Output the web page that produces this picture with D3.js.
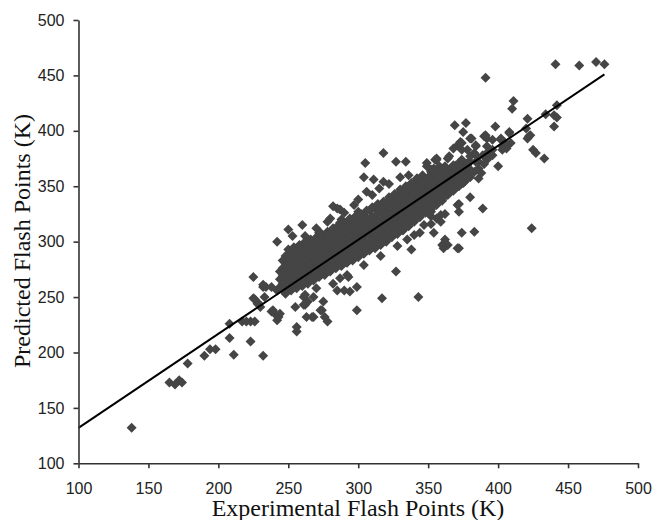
<!DOCTYPE html>
<html><head><meta charset="utf-8">
<script src="https://cdn.jsdelivr.net/npm/d3@7"></script>
<style>body{margin:0;background:#fff}svg{display:block}</style>
</head><body><svg id="c" width="654" height="520"></svg>
<script>
const xTicks=[100,150,200,250,300,350,400,450,500];
const yTicks=[100,150,200,250,300,350,400,450,500];
const xTitle="Experimental Flash Points (K)";
const yTitle="Predicted Flash Points (K)";
// regression line endpoints [experimental, predicted]
const fitLine=[[100,132],[476,451]];
// dense core of the cloud: [experimental, [predicted...]]
const coreColumns=[
[244,[259,266,273]],
[248,[258,265,272,280,287]],
[252,[256,263,271,277,285,292]],
[256,[258,265,272,280,286,294]],
[260,[260,267,274,281,289,296]],
[264,[262,270,276,283,290,298]],
[268,[265,272,279,287,293,300]],
[272,[268,275,282,289,296,303]],
[276,[270,277,285,291,298,306]],
[280,[273,280,287,294,301,308]],
[284,[276,283,290,297,305,311]],
[288,[278,285,292,299,306,313,320]],
[292,[281,288,296,302,309,316]],
[296,[283,290,297,304,312,318]],
[300,[286,293,300,307,314,321,327]],
[304,[289,296,304,310,317,324]],
[308,[292,299,306,313,320,328]],
[312,[294,301,308,316,322,330]],
[316,[297,304,311,318,326,332]],
[320,[300,307,315,321,328,335]],
[324,[304,311,318,325,333,339]],
[328,[307,314,321,329,335,342]],
[332,[310,317,324,331,338,345]],
[336,[314,321,329,335,342,349]],
[340,[318,325,332,339,346,352]],
[344,[322,329,336,343,350,356]],
[348,[326,333,340,347,354]],
[352,[329,336,343,350,357,363]],
[356,[333,340,347,354,361]],
[360,[337,344,351,358,365]],
[364,[342,349,356,363]],
[368,[346,353,360,367]],
[372,[350,357,364,371]],
[376,[354,361,368]],
[380,[358,365,372]]
];
const coreColumns2=[
[246,[262,269,276,283]],
[250,[258,265,272,280,287,293]],
[254,[260,267,274,281,289,295]],
[258,[262,269,276,284,291,297]],
[262,[264,271,278,285,292,300]],
[266,[266,273,280,287,295,302]],
[270,[268,276,283,290,297,304]],
[274,[271,278,285,293,300,306]],
[278,[273,281,288,295,302,309]],
[282,[276,283,290,297,305,312]],
[286,[279,286,293,301,308,315]],
[290,[281,288,296,303,310,317]],
[294,[284,291,298,306,313,320]],
[298,[287,294,301,308,315,323]],
[302,[290,297,304,311,318,325]],
[306,[292,299,307,314,321,328]],
[310,[295,302,309,316,323,331]],
[314,[298,305,312,319,327,334]],
[318,[301,308,315,322,330,336]],
[322,[304,311,319,326,333,340]],
[326,[307,314,322,329,336,343]],
[330,[311,318,325,332,339,347]],
[334,[314,321,328,336,343,350]],
[338,[318,325,332,339,347,353]],
[342,[322,329,336,343,350,357]],
[346,[326,333,340,347,354,360]],
[350,[329,336,344,351,358]],
[354,[333,340,347,354,361,366]],
[358,[337,344,351,358,364]],
[362,[341,348,355,362,368]],
[366,[345,352,359,366]],
[370,[349,356,363,369]],
[374,[353,360,367,373]],
[378,[357,364,371]]
];
// scattered points read individually: [experimental, predicted]
const scatterPoints=[
[138,132],[165,173],[169,171],[172,175],[174,173],[178,190],[190,197],[194,203],[198,203],[208,213],
[211,198],[208,226],[217,228],[220,228],[223,228],[226,228],[223,210],[232,197],[225,249],[228,244],
[232,259],[238,237],[241,234],[242,229],[242,300],[250,311],[253,305],[260,315],[258,296],[264,296],
[273,308],[273,302],[225,268],[234,259],[226,248],[229,244],[243,232],[256,223],[256,219],[268,232],
[274,238],[278,228],[299,238],[285,256],[290,256],[294,255],[299,259],[282,332],[287,329],[297,333],
[232,261],[238,259],[242,256],[245,258],[248,253],[233,250],[239,238],[244,235],[255,241],[262,243],
[273,238],[275,246],[285,330],[290,326],[280,321],[287,317],[294,321],[272,308],[278,305],[281,302],
[251,284],[247,277],[267,232],[261,243],[230,241],[268,250],[261,250],[293,268],[287,267],[264,246],
[276,232],[263,232],
[318,380],[305,371],[327,372],[334,372],[304,358],[311,356],[318,354],[315,348],[355,374],[364,375],
[336,360],[342,357],[349,371],[356,374],[352,365],[306,345],
[369,405],[377,407],[375,399],[381,393],[371,387],[374,389],[384,386],[378,383],[441,460],[458,459],
[470,462],[476,460],[391,448],[411,427],[410,420],[442,423],[440,414],[442,412],[440,404],[434,415],
[421,411],[420,402],[422,395],[421,393],[425,383],[427,380],[433,375],[408,399],[402,392],[409,389],
[398,404],[390,395],[392,393],[396,392],[380,393],[400,368],[386,357],[389,330],[424,312],[371,333],
[372,327],[354,308],[362,302],[360,297],[372,294],[374,308],[383,309],[392,380],[396,383],[403,383],
[406,386],[356,375],[365,377],[349,368],[372,363],[380,377],[383,363],[368,369],[374,374],[378,368],
[375,353],[371,350],[391,396],[402,393],[408,398],[405,389],[403,386],[406,384],[373,390],[368,384],
[374,383],[384,387],[383,380],[389,378],[386,372],[392,374],[394,377],[423,396],[358,368],[352,323],
[359,324],[356,321],[359,318],[352,327],[347,315],[344,308],
[335,302],[338,293],[327,273],[317,249],[343,250],[364,297],[361,294],[371,294],
[262,305],[270,312],[278,318],[300,338],[310,342],[322,352],[330,358],
[262,252],[270,258],[282,262],[292,270],[304,279],[316,287],[328,296],[340,306],[352,316],[362,325],
[372,334],[380,340],
[384,372],[388,362],[392,386],[396,378],[386,366],[390,370],[384,378],[380,362],[378,358]
];

const points=[];
coreColumns.forEach(([x,ys])=>ys.forEach(y=>points.push([x,y])));
coreColumns2.forEach(([x,ys])=>ys.forEach(y=>points.push([x,y])));
scatterPoints.forEach(p=>points.push(p));

const svg=d3.select("#c");
const x=d3.scaleLinear().domain([100,500]).range([78.5,638]);
const y=d3.scaleLinear().domain([100,500]).range([463.3,20]);

const diamond="M0,-5L5,0L0,5L-5,0Z";
svg.append("g").selectAll("path").data(points).join("path")
  .attr("d",diamond)
  .attr("transform",d=>`translate(${x(d[0])},${y(d[1])})`)
  .attr("fill","#454545");

svg.append("line")
  .attr("x1",x(fitLine[0][0])).attr("y1",y(fitLine[0][1]))
  .attr("x2",x(fitLine[1][0])).attr("y2",y(fitLine[1][1]))
  .attr("stroke","#000").attr("stroke-width",2);

const xa=svg.append("g").attr("transform",`translate(0,${y(100)})`)
  .call(d3.axisBottom(x).tickValues(xTicks).tickSize(5).tickPadding(14).tickSizeOuter(0));
const ya=svg.append("g").attr("transform",`translate(${x(100)},0)`)
  .call(d3.axisLeft(y).tickValues(yTicks).tickSize(5).tickPadding(9).tickSizeOuter(0));
[xa,ya].forEach(a=>{
  a.select(".domain").attr("stroke","#333").attr("stroke-width",1.6);
  a.selectAll(".tick line").attr("stroke","#333").attr("stroke-width",1.6);
  a.selectAll(".tick text").attr("font-family","'Liberation Sans',Arial,sans-serif")
    .attr("font-size",16).attr("fill","#222");
});

svg.append("text").attr("x",358).attr("y",516).attr("text-anchor","middle")
  .attr("font-family","'Liberation Serif','Times New Roman',serif").attr("font-size",24)
  .attr("fill","#111").text(xTitle);
svg.append("text").attr("transform","translate(30,241) rotate(-90)").attr("text-anchor","middle")
  .attr("font-family","'Liberation Serif','Times New Roman',serif").attr("font-size",24)
  .attr("fill","#111").text(yTitle);
</script></body></html>
